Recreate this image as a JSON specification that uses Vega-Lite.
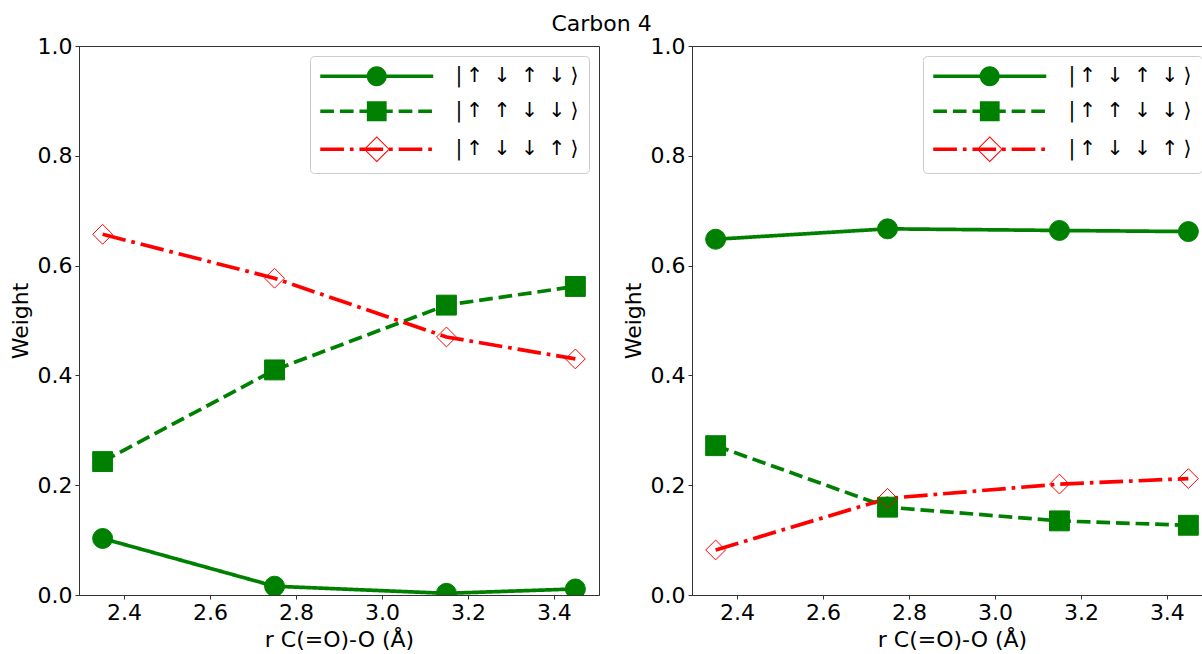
{
  "$schema": "https://vega.github.io/schema/vega-lite/v6.json",
  "background": "white",
  "padding": {"left": 8, "top": 12, "right": 0, "bottom": 0},
  "title": {"text": "Carbon 4", "fontSize": 22, "font": "DejaVu Sans", "fontWeight": "normal", "anchor": "middle", "color": "black", "offset": -1, "dx": -9},
  "datasets": {
    "d": [
      {"panel": "L", "series": "|\u2006↑\u2002↓\u2002↑\u2002↓\u2005⟩", "r": 2.35, "w": 0.103},
      {"panel": "L", "series": "|\u2006↑\u2002↓\u2002↑\u2002↓\u2005⟩", "r": 2.75, "w": 0.016},
      {"panel": "L", "series": "|\u2006↑\u2002↓\u2002↑\u2002↓\u2005⟩", "r": 3.15, "w": 0.003},
      {"panel": "L", "series": "|\u2006↑\u2002↓\u2002↑\u2002↓\u2005⟩", "r": 3.45, "w": 0.011},
      {"panel": "L", "series": "|\u2006↑\u2002↑\u2002↓\u2002↓\u2005⟩", "r": 2.35, "w": 0.243},
      {"panel": "L", "series": "|\u2006↑\u2002↑\u2002↓\u2002↓\u2005⟩", "r": 2.75, "w": 0.410},
      {"panel": "L", "series": "|\u2006↑\u2002↑\u2002↓\u2002↓\u2005⟩", "r": 3.15, "w": 0.528},
      {"panel": "L", "series": "|\u2006↑\u2002↑\u2002↓\u2002↓\u2005⟩", "r": 3.45, "w": 0.562},
      {"panel": "L", "series": "|\u2006↑\u2002↓\u2002↓\u2002↑\u2005⟩", "r": 2.35, "w": 0.657},
      {"panel": "L", "series": "|\u2006↑\u2002↓\u2002↓\u2002↑\u2005⟩", "r": 2.75, "w": 0.577},
      {"panel": "L", "series": "|\u2006↑\u2002↓\u2002↓\u2002↑\u2005⟩", "r": 3.15, "w": 0.470},
      {"panel": "L", "series": "|\u2006↑\u2002↓\u2002↓\u2002↑\u2005⟩", "r": 3.45, "w": 0.430},
      {"panel": "R", "series": "|\u2006↑\u2002↓\u2002↑\u2002↓\u2005⟩", "r": 2.35, "w": 0.648},
      {"panel": "R", "series": "|\u2006↑\u2002↓\u2002↑\u2002↓\u2005⟩", "r": 2.75, "w": 0.667},
      {"panel": "R", "series": "|\u2006↑\u2002↓\u2002↑\u2002↓\u2005⟩", "r": 3.15, "w": 0.664},
      {"panel": "R", "series": "|\u2006↑\u2002↓\u2002↑\u2002↓\u2005⟩", "r": 3.45, "w": 0.662},
      {"panel": "R", "series": "|\u2006↑\u2002↑\u2002↓\u2002↓\u2005⟩", "r": 2.35, "w": 0.272},
      {"panel": "R", "series": "|\u2006↑\u2002↑\u2002↓\u2002↓\u2005⟩", "r": 2.75, "w": 0.160},
      {"panel": "R", "series": "|\u2006↑\u2002↑\u2002↓\u2002↓\u2005⟩", "r": 3.15, "w": 0.135},
      {"panel": "R", "series": "|\u2006↑\u2002↑\u2002↓\u2002↓\u2005⟩", "r": 3.45, "w": 0.127},
      {"panel": "R", "series": "|\u2006↑\u2002↓\u2002↓\u2002↑\u2005⟩", "r": 2.35, "w": 0.082},
      {"panel": "R", "series": "|\u2006↑\u2002↓\u2002↓\u2002↑\u2005⟩", "r": 2.75, "w": 0.176},
      {"panel": "R", "series": "|\u2006↑\u2002↓\u2002↓\u2002↑\u2005⟩", "r": 3.15, "w": 0.202},
      {"panel": "R", "series": "|\u2006↑\u2002↓\u2002↓\u2002↑\u2005⟩", "r": 3.45, "w": 0.212}
    ]
  },
  "data": {"name": "d"},
  "spacing": 93,
  "bounds": "flush",
  "hconcat": [
    {
      "width": 520, "height": 549,
      "transform": [{"filter": "datum.panel == 'L'"}],
      "resolve": {"scale": {"color": "independent", "shape": "independent"}, "legend": {"color": "independent", "shape": "independent"}},
      "layer": [
        {
          "mark": {"type": "line", "strokeWidth": 3.7, "clip": true},
          "encoding": {
            "x": {"field": "r", "type": "quantitative", "scale": {"domain": [2.295, 3.505], "nice": false, "zero": false}, "axis": {"title": "r C(=O)-O (Å)", "values": [2.4, 2.6, 2.8, 3.0, 3.2, 3.4], "format": ".1f"}},
            "y": {"field": "w", "type": "quantitative", "scale": {"domain": [0, 1], "nice": false}, "axis": {"title": "Weight", "values": [0, 0.2, 0.4, 0.6, 0.8, 1.0], "format": ".1f"}},
            "color": {"field": "series", "type": "nominal", "scale": {"domain": ["|\u2006↑\u2002↓\u2002↑\u2002↓\u2005⟩", "|\u2006↑\u2002↑\u2002↓\u2002↓\u2005⟩", "|\u2006↑\u2002↓\u2002↓\u2002↑\u2005⟩"], "range": ["green", "green", "red"]}, "legend": null},
            "strokeDash": {"field": "series", "type": "nominal", "scale": {"domain": ["|\u2006↑\u2002↓\u2002↑\u2002↓\u2005⟩", "|\u2006↑\u2002↑\u2002↓\u2002↓\u2005⟩", "|\u2006↑\u2002↓\u2002↓\u2002↑\u2005⟩"], "range": [[1, 0], [13.7, 5.9], [23.7, 5.9, 3.7, 5.9]]}, "legend": null}
          }
        },
        {
          "mark": {"type": "point", "opacity": 1, "strokeWidth": 1, "clip": true},
          "encoding": {
            "x": {"field": "r", "type": "quantitative"},
            "y": {"field": "w", "type": "quantitative"},
            "shape": {"field": "series", "type": "nominal", "scale": {"domain": ["|\u2006↑\u2002↓\u2002↑\u2002↓\u2005⟩", "|\u2006↑\u2002↑\u2002↓\u2002↓\u2005⟩", "|\u2006↑\u2002↓\u2002↓\u2002↑\u2005⟩"], "range": ["circle", "square", "diamond"]}, "legend": null},
            "size": {"field": "series", "type": "nominal", "scale": {"domain": ["|\u2006↑\u2002↓\u2002↑\u2002↓\u2005⟩", "|\u2006↑\u2002↑\u2002↓\u2002↓\u2005⟩", "|\u2006↑\u2002↓\u2002↓\u2002↑\u2005⟩"], "range": [400, 392, 700]}, "legend": null},
            "fill": {"field": "series", "type": "nominal", "scale": {"domain": ["|\u2006↑\u2002↓\u2002↑\u2002↓\u2005⟩", "|\u2006↑\u2002↑\u2002↓\u2002↓\u2005⟩", "|\u2006↑\u2002↓\u2002↓\u2002↑\u2005⟩"], "range": ["green", "green", "transparent"]}, "legend": null},
            "stroke": {"field": "series", "type": "nominal", "scale": {"domain": ["|\u2006↑\u2002↓\u2002↑\u2002↓\u2005⟩", "|\u2006↑\u2002↑\u2002↓\u2002↓\u2005⟩", "|\u2006↑\u2002↓\u2002↓\u2002↑\u2005⟩"], "range": ["green", "green", "red"]}, "legend": null}
          }
        },
        {
          "transform": [{"filter": "false"}],
          "mark": {"type": "point", "filled": true, "opacity": 1, "size": 4, "strokeWidth": 0},
          "encoding": {
            "shape": {"field": "series", "type": "nominal", "scale": {"domain": ["|\u2006↑\u2002↓\u2002↑\u2002↓\u2005⟩", "|\u2006↑\u2002↑\u2002↓\u2002↓\u2005⟩", "|\u2006↑\u2002↓\u2002↓\u2002↑\u2005⟩"], "range": [
              "M-10,-1.85H103V1.85H-10Z M36.5,0A10,10,0,1,1,56.5,0A10,10,0,1,1,36.5,0Z",
              "M-10,-1.85H3.7V1.85H-10Z M9.6,-1.85H23.3V1.85H9.6Z M29.2,-1.85H42.9V1.85H29.2Z M48.8,-1.85H62.5V1.85H48.8Z M68.4,-1.85H82.1V1.85H68.4Z M88,-1.85H101.7V1.85H88Z M36.6,-9.9H56.4V9.9H36.6Z",
              "M-10,-1.85H13.7V1.85H-10Z M19.6,-1.85H23.3V1.85H19.6Z M29.2,-1.85H52.9V1.85H29.2Z M58.8,-1.85H62.5V1.85H58.8Z M68.4,-1.85H92.1V1.85H68.4Z M98,-1.85H101.7V1.85H98Z M33.5,0L46.5,-13L59.5,0L46.5,13Z M34.9,0L46.5,11.6L58.1,0L46.5,-11.6Z"
            ]}, "legend": {"title": null}},
            "color": {"field": "series", "type": "nominal", "scale": {"domain": ["|\u2006↑\u2002↓\u2002↑\u2002↓\u2005⟩", "|\u2006↑\u2002↑\u2002↓\u2002↓\u2005⟩", "|\u2006↑\u2002↓\u2002↓\u2002↑\u2005⟩"], "range": ["green", "green", "red"]}, "legend": {"title": null}}
          }
        }
      ]
    },
    {
      "width": 520, "height": 549,
      "transform": [{"filter": "datum.panel == 'R'"}],
      "resolve": {"scale": {"color": "independent", "shape": "independent"}, "legend": {"color": "independent", "shape": "independent"}},
      "layer": [
        {
          "mark": {"type": "line", "strokeWidth": 3.7, "clip": true},
          "encoding": {
            "x": {"field": "r", "type": "quantitative", "scale": {"domain": [2.295, 3.505], "nice": false, "zero": false}, "axis": {"title": "r C(=O)-O (Å)", "values": [2.4, 2.6, 2.8, 3.0, 3.2, 3.4], "format": ".1f"}},
            "y": {"field": "w", "type": "quantitative", "scale": {"domain": [0, 1], "nice": false}, "axis": {"title": "Weight", "values": [0, 0.2, 0.4, 0.6, 0.8, 1.0], "format": ".1f"}},
            "color": {"field": "series", "type": "nominal", "scale": {"domain": ["|\u2006↑\u2002↓\u2002↑\u2002↓\u2005⟩", "|\u2006↑\u2002↑\u2002↓\u2002↓\u2005⟩", "|\u2006↑\u2002↓\u2002↓\u2002↑\u2005⟩"], "range": ["green", "green", "red"]}, "legend": null},
            "strokeDash": {"field": "series", "type": "nominal", "scale": {"domain": ["|\u2006↑\u2002↓\u2002↑\u2002↓\u2005⟩", "|\u2006↑\u2002↑\u2002↓\u2002↓\u2005⟩", "|\u2006↑\u2002↓\u2002↓\u2002↑\u2005⟩"], "range": [[1, 0], [13.7, 5.9], [23.7, 5.9, 3.7, 5.9]]}, "legend": null}
          }
        },
        {
          "mark": {"type": "point", "opacity": 1, "strokeWidth": 1, "clip": true},
          "encoding": {
            "x": {"field": "r", "type": "quantitative"},
            "y": {"field": "w", "type": "quantitative"},
            "shape": {"field": "series", "type": "nominal", "scale": {"domain": ["|\u2006↑\u2002↓\u2002↑\u2002↓\u2005⟩", "|\u2006↑\u2002↑\u2002↓\u2002↓\u2005⟩", "|\u2006↑\u2002↓\u2002↓\u2002↑\u2005⟩"], "range": ["circle", "square", "diamond"]}, "legend": null},
            "size": {"field": "series", "type": "nominal", "scale": {"domain": ["|\u2006↑\u2002↓\u2002↑\u2002↓\u2005⟩", "|\u2006↑\u2002↑\u2002↓\u2002↓\u2005⟩", "|\u2006↑\u2002↓\u2002↓\u2002↑\u2005⟩"], "range": [400, 392, 700]}, "legend": null},
            "fill": {"field": "series", "type": "nominal", "scale": {"domain": ["|\u2006↑\u2002↓\u2002↑\u2002↓\u2005⟩", "|\u2006↑\u2002↑\u2002↓\u2002↓\u2005⟩", "|\u2006↑\u2002↓\u2002↓\u2002↑\u2005⟩"], "range": ["green", "green", "transparent"]}, "legend": null},
            "stroke": {"field": "series", "type": "nominal", "scale": {"domain": ["|\u2006↑\u2002↓\u2002↑\u2002↓\u2005⟩", "|\u2006↑\u2002↑\u2002↓\u2002↓\u2005⟩", "|\u2006↑\u2002↓\u2002↓\u2002↑\u2005⟩"], "range": ["green", "green", "red"]}, "legend": null}
          }
        },
        {
          "transform": [{"filter": "false"}],
          "mark": {"type": "point", "filled": true, "opacity": 1, "size": 4, "strokeWidth": 0},
          "encoding": {
            "shape": {"field": "series", "type": "nominal", "scale": {"domain": ["|\u2006↑\u2002↓\u2002↑\u2002↓\u2005⟩", "|\u2006↑\u2002↑\u2002↓\u2002↓\u2005⟩", "|\u2006↑\u2002↓\u2002↓\u2002↑\u2005⟩"], "range": [
              "M-10,-1.85H103V1.85H-10Z M36.5,0A10,10,0,1,1,56.5,0A10,10,0,1,1,36.5,0Z",
              "M-10,-1.85H3.7V1.85H-10Z M9.6,-1.85H23.3V1.85H9.6Z M29.2,-1.85H42.9V1.85H29.2Z M48.8,-1.85H62.5V1.85H48.8Z M68.4,-1.85H82.1V1.85H68.4Z M88,-1.85H101.7V1.85H88Z M36.6,-9.9H56.4V9.9H36.6Z",
              "M-10,-1.85H13.7V1.85H-10Z M19.6,-1.85H23.3V1.85H19.6Z M29.2,-1.85H52.9V1.85H29.2Z M58.8,-1.85H62.5V1.85H58.8Z M68.4,-1.85H92.1V1.85H68.4Z M98,-1.85H101.7V1.85H98Z M33.5,0L46.5,-13L59.5,0L46.5,13Z M34.9,0L46.5,11.6L58.1,0L46.5,-11.6Z"
            ]}, "legend": {"title": null}},
            "color": {"field": "series", "type": "nominal", "scale": {"domain": ["|\u2006↑\u2002↓\u2002↑\u2002↓\u2005⟩", "|\u2006↑\u2002↑\u2002↓\u2002↓\u2005⟩", "|\u2006↑\u2002↓\u2002↓\u2002↑\u2005⟩"], "range": ["green", "green", "red"]}, "legend": {"title": null}}
          }
        }
      ]
    }
  ],
  "config": {
    "font": "DejaVu Sans",
    "view": {"stroke": "#333333", "strokeWidth": 1},
    "axis": {"grid": false, "labelFont": "DejaVu Sans", "titleFont": "DejaVu Sans", "labelFontSize": 22, "titleFontSize": 22, "titleFontWeight": "normal", "labelColor": "black", "titleColor": "black", "domainColor": "#333333", "tickColor": "#333333", "tickSize": 4, "labelPadding": 3},
    "axisX": {"titlePadding": 6},
    "axisY": {"titlePadding": 5},
    "legend": {
      "orient": "top-right", "offset": 10, "symbolSize": 4, "symbolStrokeWidth": 0, "labelOffset": 115,
      "labelFont": "DejaVu Sans", "labelFontSize": 20.5, "labelColor": "black", "rowPadding": 14, "padding": 10,
      "strokeColor": "#cccccc", "fillColor": "rgba(255,255,255,0.8)", "cornerRadius": 4, "symbolOpacity": 1
    }
  }
}
